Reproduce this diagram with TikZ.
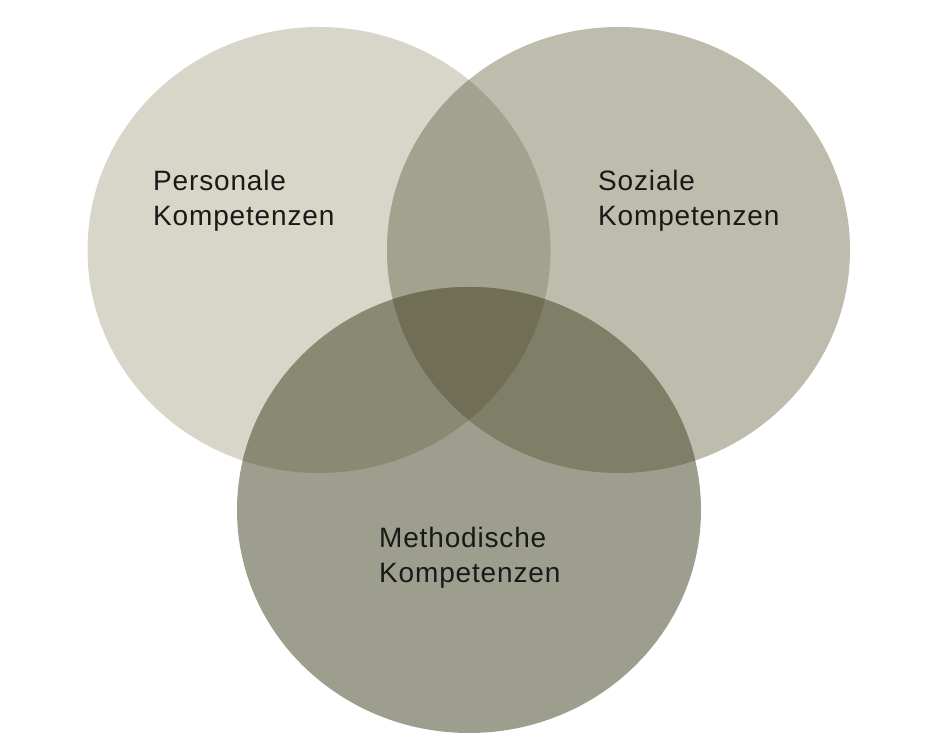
\documentclass[tikz,border=0pt]{standalone}
\usepackage{fontspec}
\setmainfont{Liberation Sans}[LetterSpace=3]

\definecolor{cPers}{HTML}{D7D6C8}
\definecolor{cSoz}{HTML}{BDBCAD}
\definecolor{cMeth}{HTML}{9D9E8D}
\definecolor{cPersSoz}{HTML}{A3A28E}
\definecolor{cPersMeth}{HTML}{8A8A74}
\definecolor{cSozMeth}{HTML}{7F7E66}
\definecolor{cAll}{HTML}{706F56}

\newcommand{\persarea}{(319,486) ellipse [x radius=231.5, y radius=223]}
\newcommand{\sozarea}{(618.5,486) ellipse [x radius=231.5, y radius=223]}
\newcommand{\metharea}{(469,226) ellipse [x radius=232, y radius=223]}

\begin{document}
\begin{tikzpicture}[x=1pt,y=1pt,
	kompetenz/.style={anchor=base west, align=left, inner sep=0pt,
		font=\fontsize{28}{35}\selectfont, text=black!90}]
	\useasboundingbox (0,0) rectangle (926,736);
		\fill[cPers] \persarea;
		\fill[cSoz] \sozarea;
		\fill[cMeth] \metharea;
	% overlaps
		\begin{scope} \clip \persarea; \fill[cPersSoz] \sozarea; \end{scope}
		\begin{scope} \clip \persarea; \fill[cPersMeth] \metharea; \end{scope}
		\begin{scope} \clip \sozarea; \fill[cSozMeth] \metharea; \end{scope}
		\begin{scope} \clip \persarea; \clip \sozarea; \fill[cAll] \metharea; \end{scope}
		\node[kompetenz] (personale) at (153,510) {Personale\\Kompetenzen};
		\node[kompetenz] (soziale) at (598,510) {Soziale\\Kompetenzen};
		\node[kompetenz] (methodische) at (379,153.5) {Methodische\\Kompetenzen};
	\end{tikzpicture}
\end{document}
